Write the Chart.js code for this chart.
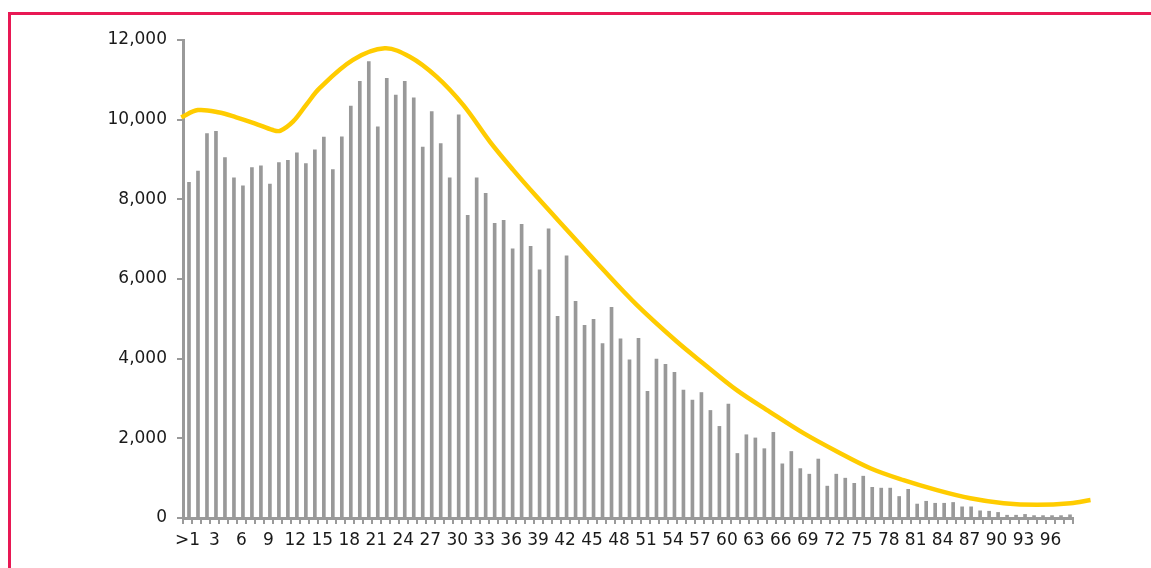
<!DOCTYPE html>
<html>
<head>
<meta charset="utf-8">
<script src="https://cdn.jsdelivr.net/npm/chart.js@4/dist/chart.umd.min.js"></script>
<style>
  html, body { margin: 0; padding: 0; background: #fff; }
  #frame { position: absolute; left: 8px; top: 12px; width: 1400px; height: 800px;
           border-top: 3px solid #e81854; border-left: 3px solid #e81854; }
  #wrap { position: absolute; left: 0; top: 0; width: 1151px; height: 568px; }
</style>
</head>
<body>
<div id="frame"></div>
<div id="wrap"><canvas id="chart" width="1151" height="568"></canvas></div>
<script>
// categories: ">1" then 1..98
const categories = ['>1', '1', '2', '3', '4', '5', '6', '7', '8', '9',
  '10', '11', '12', '13', '14', '15', '16', '17', '18', '19',
  '20', '21', '22', '23', '24', '25', '26', '27', '28', '29',
  '30', '31', '32', '33', '34', '35', '36', '37', '38', '39',
  '40', '41', '42', '43', '44', '45', '46', '47', '48', '49',
  '50', '51', '52', '53', '54', '55', '56', '57', '58', '59',
  '60', '61', '62', '63', '64', '65', '66', '67', '68', '69',
  '70', '71', '72', '73', '74', '75', '76', '77', '78', '79',
  '80', '81', '82', '83', '84', '85', '86', '87', '88', '89',
  '90', '91', '92', '93', '94', '95', '96', '97', '98'];

// bar heights
const counts = [8430, 8710, 9650, 9710, 9050, 8540, 8340, 8800, 8840, 8380,
  8920, 8980, 9170, 8900, 9240, 9560, 8750, 9570, 10340, 10960,
  11460, 9820, 11040, 10620, 10960, 10550, 9310, 10200, 9400, 8540,
  10120, 7600, 8540, 8150, 7400, 7470, 6760, 7370, 6820, 6230,
  7260, 5060, 6580, 5440, 4840, 4990, 4380, 5290, 4500, 3970,
  4510, 3180, 3990, 3860, 3660, 3210, 2960, 3150, 2700, 2300,
  2860, 1620, 2090, 2010, 1740, 2150, 1360, 1670, 1240, 1100,
  1480, 800, 1100, 1000, 870, 1050, 770, 750, 750, 540,
  720, 350, 420, 370, 370, 390, 280, 280, 180, 170,
  140, 70, 70, 90, 60, 60, 60, 60, 80];

// trend curve (position in category units)
const trendPos = [-0.7, 1.15, 3.56, 5.42, 7.46, 9.5, 10.3, 11.73, 13.2, 14.7,
  18.41, 21.94, 24.72, 27.7, 30.66, 33.63, 36.22, 38.83, 42.54, 46.25,
  49.97, 54.42, 57.38, 61.1, 64.81, 68.52, 72.24, 75.95, 79.65, 83.37,
  87.08, 90.79, 94.51, 98.22, 100.45];
const trendVal = [10060, 10240, 10180, 10060, 9910, 9740, 9720, 9950, 10370, 10790,
  11500, 11790, 11580, 11080, 10370, 9450, 8740, 8070, 7150, 6230,
  5350, 4430, 3880, 3210, 2660, 2130, 1670, 1250, 950, 700,
  495, 370, 330, 370, 450];

const yTicks = [0, 2000, 4000, 6000, 8000, 10000, 12000];

const axisGrey = '#9a9a9a';
const tickFont = { family: 'DejaVu Sans', size: 17 };

new Chart(document.getElementById('chart'), {
  data: {
    labels: categories,
    datasets: [
      {
        type: 'line',
        data: trendPos.map((p, i) => ({ x: p, y: trendVal[i] })),
        xAxisID: 'xl',
        borderColor: '#ffcc00',
        borderWidth: 4.5,
        pointRadius: 0,
        tension: 0.35,
        fill: false,
        clip: false,
        order: 0
      },
      {
        type: 'bar',
        data: counts,
        xAxisID: 'x',
        backgroundColor: '#999999',
        barThickness: 3,
        order: 1
      }
    ]
  },
  options: {
    responsive: false,
    animation: false,
    layout: { padding: { top: 40, right: 78, bottom: 0, left: 0 } },
    plugins: { legend: { display: false }, tooltip: { enabled: false } },
    scales: {
      x: {
        type: 'category',
        offset: true,
        border: { color: axisGrey, width: 3 },
        grid: { offset: true, drawOnChartArea: false, drawTicks: true, tickLength: 6, color: axisGrey, lineWidth: 2 },
        ticks: {
          autoSkip: false, maxRotation: 0, minRotation: 0, padding: 6,
          color: '#1a1a1a', font: tickFont,
          callback: (v, i) => (i % 3 === 0 ? categories[i] : '')
        },
        afterFit: (s) => { s.height = 50; }
      },
      xl: {
        type: 'linear',
        display: false,
        min: -0.5,
        max: 98.5
      },
      y: {
        min: 0,
        max: 12000,
        afterBuildTicks: (s) => { s.ticks = yTicks.map(v => ({ value: v })); },
        border: { color: axisGrey, width: 3 },
        grid: { drawOnChartArea: false, drawTicks: true, tickLength: 6, color: axisGrey, lineWidth: 2 },
        ticks: {
          padding: 10, color: '#1a1a1a', font: tickFont,
          callback: (v) => v.toLocaleString('en-US')
        },
        afterFit: (s) => { s.width = 183; }
      }
    }
  }
});
</script>
</body>
</html>
